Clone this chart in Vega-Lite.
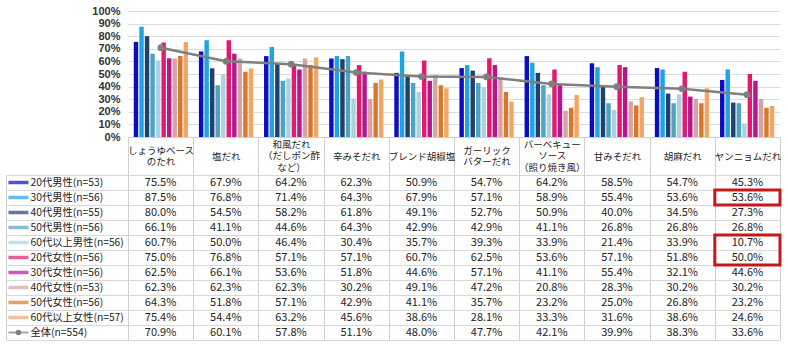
{
  "$schema": "https://vega.github.io/schema/vega-lite/v6.json",
  "background": "white",
  "padding": 5,
  "config": {"font": "Noto Sans CJK JP", "view": {"stroke": null}, "axis": {"labelOverlap": false}},
  "datasets": {
    "series": [
      {"s": "20代男性(n=53)"}, {"s": "30代男性(n=56)"}, {"s": "40代男性(n=55)"}, {"s": "50代男性(n=56)"}, {"s": "60代以上男性(n=56)"},
      {"s": "20代女性(n=56)"}, {"s": "30代女性(n=56)"}, {"s": "40代女性(n=53)"}, {"s": "50代女性(n=56)"}, {"s": "60代以上女性(n=57)"}, {"s": "全体(n=554)"}
    ],
    "boxes": [
      {"c": "ヤンニョムだれ", "from": "30代男性(n=56)", "to": "30代男性(n=56)"},
      {"c": "ヤンニョムだれ", "from": "60代以上男性(n=56)", "to": "20代女性(n=56)"}
    ],
    "vals": [
      {"s": "20代男性(n=53)", "c": "しょうゆベース\nのたれ", "v": 0.755},
      {"s": "20代男性(n=53)", "c": "塩だれ", "v": 0.679},
      {"s": "20代男性(n=53)", "c": "和風だれ\n（だしポン酢\nなど）", "v": 0.642},
      {"s": "20代男性(n=53)", "c": "辛みそだれ", "v": 0.623},
      {"s": "20代男性(n=53)", "c": "ブレンド胡椒塩", "v": 0.509},
      {"s": "20代男性(n=53)", "c": "ガーリック\nバターだれ", "v": 0.547},
      {"s": "20代男性(n=53)", "c": "バーベキュー\nソース\n（照り焼き風）", "v": 0.642},
      {"s": "20代男性(n=53)", "c": "甘みそだれ", "v": 0.585},
      {"s": "20代男性(n=53)", "c": "胡麻だれ", "v": 0.547},
      {"s": "20代男性(n=53)", "c": "ヤンニョムだれ", "v": 0.453},
      {"s": "30代男性(n=56)", "c": "しょうゆベース\nのたれ", "v": 0.875},
      {"s": "30代男性(n=56)", "c": "塩だれ", "v": 0.768},
      {"s": "30代男性(n=56)", "c": "和風だれ\n（だしポン酢\nなど）", "v": 0.714},
      {"s": "30代男性(n=56)", "c": "辛みそだれ", "v": 0.643},
      {"s": "30代男性(n=56)", "c": "ブレンド胡椒塩", "v": 0.679},
      {"s": "30代男性(n=56)", "c": "ガーリック\nバターだれ", "v": 0.571},
      {"s": "30代男性(n=56)", "c": "バーベキュー\nソース\n（照り焼き風）", "v": 0.589},
      {"s": "30代男性(n=56)", "c": "甘みそだれ", "v": 0.554},
      {"s": "30代男性(n=56)", "c": "胡麻だれ", "v": 0.536},
      {"s": "30代男性(n=56)", "c": "ヤンニョムだれ", "v": 0.536},
      {"s": "40代男性(n=55)", "c": "しょうゆベース\nのたれ", "v": 0.800},
      {"s": "40代男性(n=55)", "c": "塩だれ", "v": 0.545},
      {"s": "40代男性(n=55)", "c": "和風だれ\n（だしポン酢\nなど）", "v": 0.582},
      {"s": "40代男性(n=55)", "c": "辛みそだれ", "v": 0.618},
      {"s": "40代男性(n=55)", "c": "ブレンド胡椒塩", "v": 0.491},
      {"s": "40代男性(n=55)", "c": "ガーリック\nバターだれ", "v": 0.527},
      {"s": "40代男性(n=55)", "c": "バーベキュー\nソース\n（照り焼き風）", "v": 0.509},
      {"s": "40代男性(n=55)", "c": "甘みそだれ", "v": 0.400},
      {"s": "40代男性(n=55)", "c": "胡麻だれ", "v": 0.345},
      {"s": "40代男性(n=55)", "c": "ヤンニョムだれ", "v": 0.273},
      {"s": "50代男性(n=56)", "c": "しょうゆベース\nのたれ", "v": 0.661},
      {"s": "50代男性(n=56)", "c": "塩だれ", "v": 0.411},
      {"s": "50代男性(n=56)", "c": "和風だれ\n（だしポン酢\nなど）", "v": 0.446},
      {"s": "50代男性(n=56)", "c": "辛みそだれ", "v": 0.643},
      {"s": "50代男性(n=56)", "c": "ブレンド胡椒塩", "v": 0.429},
      {"s": "50代男性(n=56)", "c": "ガーリック\nバターだれ", "v": 0.429},
      {"s": "50代男性(n=56)", "c": "バーベキュー\nソース\n（照り焼き風）", "v": 0.411},
      {"s": "50代男性(n=56)", "c": "甘みそだれ", "v": 0.268},
      {"s": "50代男性(n=56)", "c": "胡麻だれ", "v": 0.268},
      {"s": "50代男性(n=56)", "c": "ヤンニョムだれ", "v": 0.268},
      {"s": "60代以上男性(n=56)", "c": "しょうゆベース\nのたれ", "v": 0.607},
      {"s": "60代以上男性(n=56)", "c": "塩だれ", "v": 0.500},
      {"s": "60代以上男性(n=56)", "c": "和風だれ\n（だしポン酢\nなど）", "v": 0.464},
      {"s": "60代以上男性(n=56)", "c": "辛みそだれ", "v": 0.304},
      {"s": "60代以上男性(n=56)", "c": "ブレンド胡椒塩", "v": 0.357},
      {"s": "60代以上男性(n=56)", "c": "ガーリック\nバターだれ", "v": 0.393},
      {"s": "60代以上男性(n=56)", "c": "バーベキュー\nソース\n（照り焼き風）", "v": 0.339},
      {"s": "60代以上男性(n=56)", "c": "甘みそだれ", "v": 0.214},
      {"s": "60代以上男性(n=56)", "c": "胡麻だれ", "v": 0.339},
      {"s": "60代以上男性(n=56)", "c": "ヤンニョムだれ", "v": 0.107},
      {"s": "20代女性(n=56)", "c": "しょうゆベース\nのたれ", "v": 0.750},
      {"s": "20代女性(n=56)", "c": "塩だれ", "v": 0.768},
      {"s": "20代女性(n=56)", "c": "和風だれ\n（だしポン酢\nなど）", "v": 0.571},
      {"s": "20代女性(n=56)", "c": "辛みそだれ", "v": 0.571},
      {"s": "20代女性(n=56)", "c": "ブレンド胡椒塩", "v": 0.607},
      {"s": "20代女性(n=56)", "c": "ガーリック\nバターだれ", "v": 0.625},
      {"s": "20代女性(n=56)", "c": "バーベキュー\nソース\n（照り焼き風）", "v": 0.536},
      {"s": "20代女性(n=56)", "c": "甘みそだれ", "v": 0.571},
      {"s": "20代女性(n=56)", "c": "胡麻だれ", "v": 0.518},
      {"s": "20代女性(n=56)", "c": "ヤンニョムだれ", "v": 0.500},
      {"s": "30代女性(n=56)", "c": "しょうゆベース\nのたれ", "v": 0.625},
      {"s": "30代女性(n=56)", "c": "塩だれ", "v": 0.661},
      {"s": "30代女性(n=56)", "c": "和風だれ\n（だしポン酢\nなど）", "v": 0.536},
      {"s": "30代女性(n=56)", "c": "辛みそだれ", "v": 0.518},
      {"s": "30代女性(n=56)", "c": "ブレンド胡椒塩", "v": 0.446},
      {"s": "30代女性(n=56)", "c": "ガーリック\nバターだれ", "v": 0.571},
      {"s": "30代女性(n=56)", "c": "バーベキュー\nソース\n（照り焼き風）", "v": 0.411},
      {"s": "30代女性(n=56)", "c": "甘みそだれ", "v": 0.554},
      {"s": "30代女性(n=56)", "c": "胡麻だれ", "v": 0.321},
      {"s": "30代女性(n=56)", "c": "ヤンニョムだれ", "v": 0.446},
      {"s": "40代女性(n=53)", "c": "しょうゆベース\nのたれ", "v": 0.623},
      {"s": "40代女性(n=53)", "c": "塩だれ", "v": 0.623},
      {"s": "40代女性(n=53)", "c": "和風だれ\n（だしポン酢\nなど）", "v": 0.623},
      {"s": "40代女性(n=53)", "c": "辛みそだれ", "v": 0.302},
      {"s": "40代女性(n=53)", "c": "ブレンド胡椒塩", "v": 0.491},
      {"s": "40代女性(n=53)", "c": "ガーリック\nバターだれ", "v": 0.472},
      {"s": "40代女性(n=53)", "c": "バーベキュー\nソース\n（照り焼き風）", "v": 0.208},
      {"s": "40代女性(n=53)", "c": "甘みそだれ", "v": 0.283},
      {"s": "40代女性(n=53)", "c": "胡麻だれ", "v": 0.302},
      {"s": "40代女性(n=53)", "c": "ヤンニョムだれ", "v": 0.302},
      {"s": "50代女性(n=56)", "c": "しょうゆベース\nのたれ", "v": 0.643},
      {"s": "50代女性(n=56)", "c": "塩だれ", "v": 0.518},
      {"s": "50代女性(n=56)", "c": "和風だれ\n（だしポン酢\nなど）", "v": 0.571},
      {"s": "50代女性(n=56)", "c": "辛みそだれ", "v": 0.429},
      {"s": "50代女性(n=56)", "c": "ブレンド胡椒塩", "v": 0.411},
      {"s": "50代女性(n=56)", "c": "ガーリック\nバターだれ", "v": 0.357},
      {"s": "50代女性(n=56)", "c": "バーベキュー\nソース\n（照り焼き風）", "v": 0.232},
      {"s": "50代女性(n=56)", "c": "甘みそだれ", "v": 0.250},
      {"s": "50代女性(n=56)", "c": "胡麻だれ", "v": 0.268},
      {"s": "50代女性(n=56)", "c": "ヤンニョムだれ", "v": 0.232},
      {"s": "60代以上女性(n=57)", "c": "しょうゆベース\nのたれ", "v": 0.754},
      {"s": "60代以上女性(n=57)", "c": "塩だれ", "v": 0.544},
      {"s": "60代以上女性(n=57)", "c": "和風だれ\n（だしポン酢\nなど）", "v": 0.632},
      {"s": "60代以上女性(n=57)", "c": "辛みそだれ", "v": 0.456},
      {"s": "60代以上女性(n=57)", "c": "ブレンド胡椒塩", "v": 0.386},
      {"s": "60代以上女性(n=57)", "c": "ガーリック\nバターだれ", "v": 0.281},
      {"s": "60代以上女性(n=57)", "c": "バーベキュー\nソース\n（照り焼き風）", "v": 0.333},
      {"s": "60代以上女性(n=57)", "c": "甘みそだれ", "v": 0.316},
      {"s": "60代以上女性(n=57)", "c": "胡麻だれ", "v": 0.386},
      {"s": "60代以上女性(n=57)", "c": "ヤンニョムだれ", "v": 0.246},
      {"s": "全体(n=554)", "c": "しょうゆベース\nのたれ", "v": 0.709},
      {"s": "全体(n=554)", "c": "塩だれ", "v": 0.601},
      {"s": "全体(n=554)", "c": "和風だれ\n（だしポン酢\nなど）", "v": 0.578},
      {"s": "全体(n=554)", "c": "辛みそだれ", "v": 0.511},
      {"s": "全体(n=554)", "c": "ブレンド胡椒塩", "v": 0.480},
      {"s": "全体(n=554)", "c": "ガーリック\nバターだれ", "v": 0.477},
      {"s": "全体(n=554)", "c": "バーベキュー\nソース\n（照り焼き風）", "v": 0.421},
      {"s": "全体(n=554)", "c": "甘みそだれ", "v": 0.399},
      {"s": "全体(n=554)", "c": "胡麻だれ", "v": 0.383},
      {"s": "全体(n=554)", "c": "ヤンニョムだれ", "v": 0.336}
    ]
  },
  "columns": 2,
  "spacing": {"row": 38, "column": 0},
  "bounds": "flush",
  "align": "each",
  "concat": [
    {
      "data": {"name": "series"},
      "width": 122,
      "height": 126,
      "transform": [{"filter": "false"}],
      "mark": "text",
      "encoding": {}
    },
    {
      "data": {"name": "vals"},
      "width": 652,
      "height": 126,
      "encoding": {
        "x": {
          "field": "c", "type": "nominal",
          "scale": {"domain": ["しょうゆベース\nのたれ", "塩だれ", "和風だれ\n（だしポン酢\nなど）", "辛みそだれ", "ブレンド胡椒塩", "ガーリック\nバターだれ", "バーベキュー\nソース\n（照り焼き風）", "甘みそだれ", "胡麻だれ", "ヤンニョムだれ"], "paddingInner": 0.15, "paddingOuter": 0.08},
          "axis": {"labels": false, "ticks": false, "title": null, "domain": true, "domainColor": "#cfcfcf", "domainWidth": 1}
        },
        "y": {
          "field": "v", "type": "quantitative",
          "scale": {"domain": [0, 1]},
          "axis": {"values": [0, 0.1, 0.2, 0.3, 0.4, 0.5, 0.6, 0.7, 0.8, 0.9, 1], "format": ".0%", "title": null, "domain": false, "ticks": false, "labelOverlap": false, "labelPadding": 8, "labelFont": "Liberation Sans", "labelFontSize": 11, "labelFontWeight": "bold", "labelColor": "#333333", "gridColor": "#dcdcdc"}
        }
      },
      "layer": [
        {
          "transform": [{"filter": "datum.s !== '全体(n=554)'"}],
          "mark": {"type": "bar"},
          "encoding": {
            "xOffset": {
              "field": "s", "type": "nominal",
              "scale": {"domain": ["20代男性(n=53)", "30代男性(n=56)", "40代男性(n=55)", "50代男性(n=56)", "60代以上男性(n=56)", "20代女性(n=56)", "30代女性(n=56)", "40代女性(n=53)", "50代女性(n=56)", "60代以上女性(n=57)"], "paddingInner": 0.2, "paddingOuter": 0.1}
            },
            "color": {
              "field": "s", "type": "nominal",
              "scale": {
                "domain": ["20代男性(n=53)", "30代男性(n=56)", "40代男性(n=55)", "50代男性(n=56)", "60代以上男性(n=56)", "20代女性(n=56)", "30代女性(n=56)", "40代女性(n=53)", "50代女性(n=56)", "60代以上女性(n=57)", "全体(n=554)"],
                "range": ["#0c0cc0", "#1ea5e1", "#22406e", "#4ea3c2", "#a9d2e3", "#e6176f", "#b4168e", "#d8a2a2", "#d9782b", "#f1a566", "#808080"]
              },
              "legend": null
            }
          }
        },
        {
          "transform": [{"filter": "datum.s === '全体(n=554)'"}],
          "mark": {"type": "line", "color": "#7f7f7f", "strokeWidth": 2.5, "point": {"filled": true, "size": 45, "color": "#7f7f7f"}}
        }
      ]
    },
    {
      "data": {"name": "series"},
      "width": 122,
      "height": 165,
      "view": {"stroke": "#d0d0d0"},
      "layer": [
        {
          "transform": [{"filter": "datum.s !== '全体(n=554)'"}],
          "mark": {"type": "tick", "orient": "horizontal", "thickness": 3.5, "size": 20},
          "encoding": {
            "y": {
              "field": "s", "type": "nominal",
              "scale": {"domain": ["20代男性(n=53)", "30代男性(n=56)", "40代男性(n=55)", "50代男性(n=56)", "60代以上男性(n=56)", "20代女性(n=56)", "30代女性(n=56)", "40代女性(n=53)", "50代女性(n=56)", "60代以上女性(n=57)", "全体(n=554)"], "paddingInner": 0, "paddingOuter": 0},
              "axis": {"title": null, "domain": false, "ticks": false, "tickSize": 0, "labelAlign": "left", "labelPadding": -24, "labelFontSize": 10.3, "labelColor": "#222222", "grid": true, "tickBand": "extent", "gridColor": "#d8d8d8"}
            },
            "x": {"datum": "key", "type": "nominal", "scale": {"type": "point", "align": 0.102, "paddingOuter": 0.5}, "axis": null},
            "color": {"field": "s", "type": "nominal", "legend": null}
          }
        },
        {
          "transform": [{"filter": "datum.s === '全体(n=554)'"}],
          "mark": {"type": "tick", "orient": "horizontal", "thickness": 2, "size": 20, "color": "#7f7f7f"},
          "encoding": {
            "y": {"field": "s", "type": "nominal"},
            "x": {"datum": "key", "type": "nominal"}
          }
        },
        {
          "transform": [{"filter": "datum.s === '全体(n=554)'"}],
          "mark": {"type": "circle", "size": 30, "opacity": 1, "color": "#7f7f7f"},
          "encoding": {
            "y": {"field": "s", "type": "nominal"},
            "x": {"datum": "key", "type": "nominal"}
          }
        }
      ]
    },
    {
      "width": 652,
      "height": 165,
      "view": {"stroke": "#d0d0d0"},
      "layer": [
        {
          "data": {"name": "vals"},
          "mark": {"type": "text", "fontSize": 11, "color": "#222222"},
          "encoding": {
            "x": {
              "field": "c", "type": "nominal",
              "scale": {"domain": ["しょうゆベース\nのたれ", "塩だれ", "和風だれ\n（だしポン酢\nなど）", "辛みそだれ", "ブレンド胡椒塩", "ガーリック\nバターだれ", "バーベキュー\nソース\n（照り焼き風）", "甘みそだれ", "胡麻だれ", "ヤンニョムだれ"], "paddingInner": 0, "paddingOuter": 0},
              "axis": {"orient": "top", "title": null, "labelExpr": "split(datum.label, '\\n')", "labelAngle": 0, "labelOverlap": false, "tickBand": "extent", "tickSize": 38, "tickColor": "#d0d0d0", "domain": false, "grid": true, "gridColor": "#d0d0d0", "labelPadding": {"condition": [{"test": "length(split(datum.label, '\\n')) == 3", "value": -7}, {"test": "length(split(datum.label, '\\n')) == 2", "value": -13}], "value": -19}, "labelBaseline": "middle", "labelFontSize": 9.5, "labelLineHeight": 11.5, "labelColor": "#222222"}
            },
            "y": {
              "field": "s", "type": "nominal",
              "scale": {"domain": ["20代男性(n=53)", "30代男性(n=56)", "40代男性(n=55)", "50代男性(n=56)", "60代以上男性(n=56)", "20代女性(n=56)", "30代女性(n=56)", "40代女性(n=53)", "50代女性(n=56)", "60代以上女性(n=57)", "全体(n=554)"], "paddingInner": 0, "paddingOuter": 0},
              "axis": {"title": null, "labels": false, "ticks": false, "domain": false, "grid": true, "tickBand": "extent", "gridColor": "#d8d8d8"}
            },
            "text": {"field": "v", "type": "quantitative", "format": ".1%"}
          }
        },
        {
          "data": {"name": "boxes"},
          "mark": {"type": "rect", "fill": null, "stroke": "#c8161d", "strokeWidth": 3},
          "encoding": {
            "x": {"field": "c", "type": "nominal"},
            "y": {"field": "from", "type": "nominal", "bandPosition": 0},
            "y2": {"field": "to", "bandPosition": 1}
          }
        }
      ]
    }
  ]
}
